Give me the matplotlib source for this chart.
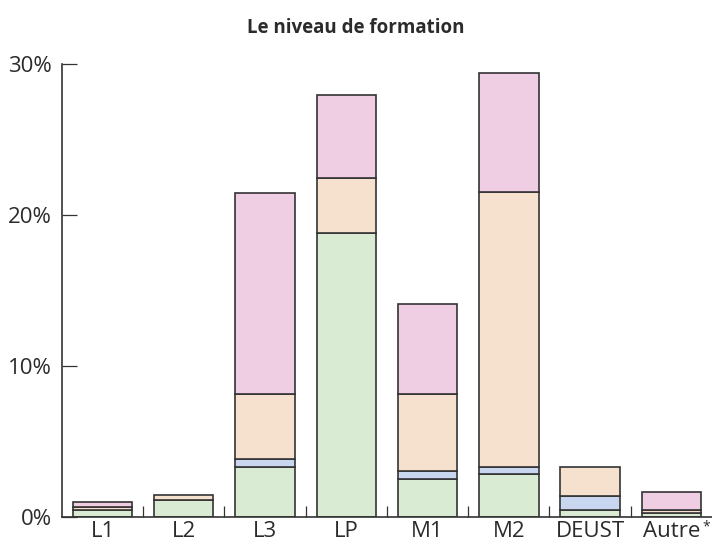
import matplotlib
matplotlib.use("Agg")
import matplotlib.pyplot as plt
import numpy as np

categories = ["L1", "L2", "L3", "LP", "M1", "M2", "DEUST", "Autre"]
green = [0.5, 1.1, 3.3, 18.8, 2.5, 2.85, 0.5, 0.3]
blue = [0.0, 0.0, 0.55, 0.0, 0.55, 0.45, 0.9, 0.0]
beige = [0.15, 0.35, 4.3, 3.65, 5.1, 18.2, 1.9, 0.2]
pink = [0.35, 0.0, 13.3, 5.5, 5.95, 7.9, 0.0, 1.15]

layers = [
    (green, "#d9ecd3"),
    (blue, "#c8d6ef"),
    (beige, "#f6e1cf"),
    (pink, "#efcde3"),
]

plt.rcParams["font.family"] = ["Open Sans", "DejaVu Sans"]
text_color = "#2b2b2b"

fig = plt.figure(figsize=(7.12, 5.46), dpi=100)
ax = fig.add_axes([0.087, 0.053, 0.913, 0.83])

x = np.arange(len(categories))
bottom = np.zeros(len(categories))
for vals, color in layers:
    vals = np.array(vals)
    mask = vals > 0
    ax.bar(x[mask], vals[mask], bottom=bottom[mask], width=0.73,
           color=color, edgecolor="#333333", linewidth=1.2, zorder=2)
    bottom += vals

ax.set_xlim(-0.5, len(categories) - 0.5)
ax.set_ylim(0, 30)
ax.set_yticks([0, 10, 20, 30])
ax.set_yticklabels(["0%", "10%", "20%", "30%"], fontsize=16, color=text_color)
ax.set_xticks(x)
ax.set_xticklabels(categories, fontsize=16, color=text_color)
ax.set_xticks(np.arange(0.5, len(categories) - 0.5, 1), minor=True)
ax.tick_params(axis="x", which="major", length=0, pad=3)
ax.tick_params(axis="x", which="minor", direction="in", length=8, width=0.9, color="#333333")
ax.tick_params(axis="y", direction="in", length=11, width=0.9, color="#333333", pad=7)

# superscript asterisk after "Autre"
ax.annotate("*", xy=(7, 0), xycoords="data", xytext=(22, -2), textcoords="offset points",
            ha="left", va="top", fontsize=10, color=text_color, annotation_clip=False)

for side in ["top", "right"]:
    ax.spines[side].set_visible(False)
for side in ["left", "bottom"]:
    ax.spines[side].set_linewidth(1.2)
    ax.spines[side].set_color("#333333")

fig.text(0.5, 0.948, "Le niveau de formation", ha="center", va="center",
         fontsize=13.5, fontweight="bold", color=text_color)

fig.savefig("out.png", dpi=100)
